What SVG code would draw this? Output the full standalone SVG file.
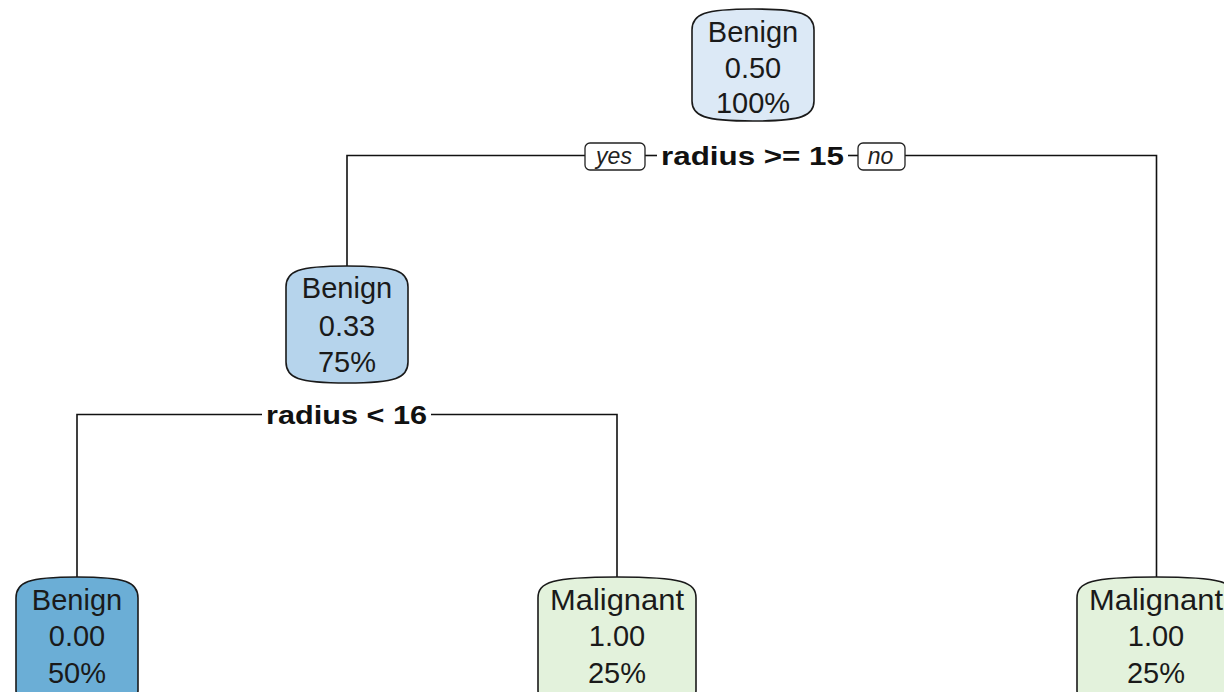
<svg xmlns="http://www.w3.org/2000/svg" width="1224" height="692" viewBox="0 0 1224 692">
  <style>
    .box { stroke: #1a1a1a; stroke-width: 1.6; }
    .edge { fill: none; stroke: #111; stroke-width: 1.6; }
    .nt { font-family: "Liberation Sans", Arial, sans-serif; font-size: 29px; fill: #1a1a1a; text-anchor: middle; }
    .split { font-family: "Liberation Sans", Arial, sans-serif; font-size: 26px; font-weight: bold; fill: #111; text-anchor: middle; }
    .yn { font-family: "Liberation Sans", Arial, sans-serif; font-size: 23px; font-style: italic; fill: #222; text-anchor: middle; }
    .ynbox { fill: #fff; stroke: #222; stroke-width: 1.3; }
  </style>
  <rect width="1224" height="692" fill="#ffffff"/>

  <!-- connectors -->
  <g id="connectors">
    <path class="edge" d="M347,266 V155.5 H585"/>
    <path class="edge" d="M645,155.5 H657"/>
    <path class="edge" d="M848,155.5 H858"/>
    <path class="edge" d="M905,155.5 H1156.5 V577"/>
    <path class="edge" d="M77,577 V414.5 H262"/>
    <path class="edge" d="M431,414.5 H617 V577"/>
    <g id="labels">
      <rect class="ynbox" x="585" y="143" width="60" height="27" rx="5"/>
      <text class="yn" x="614" y="164">yes</text>
      <text class="split" x="752.5" y="165" textLength="183" lengthAdjust="spacingAndGlyphs">radius &gt;= 15</text>
      <rect class="ynbox" x="858" y="143" width="47" height="27" rx="5"/>
      <text class="yn" x="880.5" y="164">no</text>
      <text class="split" x="346.5" y="424" textLength="161" lengthAdjust="spacingAndGlyphs">radius &lt; 16</text>
    </g>
  </g>

  <!-- root -->
  <g id="node1">
    <path class="box" fill="#dce9f6" d="M692,30 C692,14 704,9 753,9 C802,9 814,14 814,30 V101 C814,116 802,121 753,121 C704,121 692,116 692,101 Z"/>
    <text class="nt" x="753" y="42">Benign</text>
    <text class="nt" x="753" y="78">0.50</text>
    <text class="nt" x="753" y="113">100%</text>
  </g>

  <g id="node2">
    <path class="box" fill="#b6d4ec" d="M286,287 C286,271 298,266 347,266 C396,266 408,271 408,287 V362 C408,378 396,383 347,383 C298,383 286,378 286,362 Z"/>
    <text class="nt" x="347" y="298">Benign</text>
    <text class="nt" x="347" y="336">0.33</text>
    <text class="nt" x="347" y="372">75%</text>
  </g>

  <g id="node4">
    <path class="box" fill="#6baed6" d="M16,598 C16,582 28,577 77,577 C126,577 138,582 138,598 V690 C138,706 126,711 77,711 C28,711 16,706 16,690 Z"/>
    <text class="nt" x="77" y="610">Benign</text>
    <text class="nt" x="77" y="646">0.00</text>
    <text class="nt" x="77" y="683">50%</text>
  </g>

  <g id="node5">
    <path class="box" fill="#e3f2dc" d="M538,598 C538,582 552,577 617,577 C682,577 696,582 696,598 V690 C696,706 682,711 617,711 C552,711 538,706 538,690 Z"/>
    <text class="nt" x="617" y="610" textLength="134" lengthAdjust="spacingAndGlyphs">Malignant</text>
    <text class="nt" x="617" y="646">1.00</text>
    <text class="nt" x="617" y="683">25%</text>
  </g>

  <g id="node3">
    <path class="box" fill="#e3f2dc" d="M1077,598 C1077,582 1091,577 1156,577 C1221,577 1235,582 1235,598 V690 C1235,706 1221,711 1156,711 C1091,711 1077,706 1077,690 Z"/>
    <text class="nt" x="1156" y="610" textLength="134" lengthAdjust="spacingAndGlyphs">Malignant</text>
    <text class="nt" x="1156" y="646">1.00</text>
    <text class="nt" x="1156" y="683">25%</text>
  </g>
</svg>
